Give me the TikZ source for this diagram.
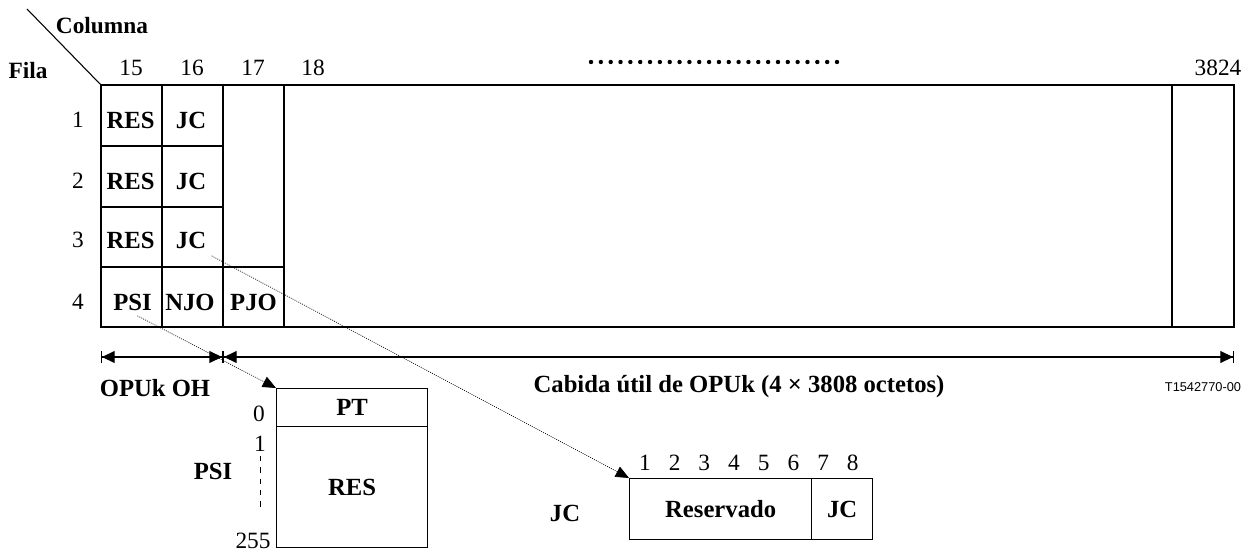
\documentclass[tikz,border=0pt]{standalone}
\usepackage{fontspec}
\setmainfont{Liberation Serif}
\newfontfamily\refsans{Liberation Sans}
\usetikzlibrary{arrows.meta}

\begin{document}
\begin{tikzpicture}[
    x=0.75pt, y=-0.75pt,
    frame/.style={line width=1pt},
    field/.style={
        font=\fontsize{18.5}{21}\selectfont\bfseries,
        inner sep=1pt
    },
    box field/.style={
        draw,
        line width=1pt,
        font=\fontsize{18.5}{21}\selectfont\bfseries,
        inner sep=0pt,
        anchor=north west
    },
    index/.style={
        font=\fontsize{17.5}{20}\selectfont,
        inner sep=1pt
    },
    heading/.style={
        font=\fontsize{17.5}{20}\selectfont\bfseries,
        inner sep=1pt
    },
    span arrow/.style={
        {Bar[width=9pt]Triangle[length=9.5pt, width=9pt, sep=0pt]}-{Triangle[length=9.5pt, width=9pt, sep=0pt]Bar[width=9pt]},
        line width=0.8pt
    },
    pointer/.style={
        -{Triangle[length=10pt, width=8.5pt]},
        line width=0.5pt,
        dash pattern=on 0.7pt off 0.9pt
    }
]
    \useasboundingbox (0,0) rectangle (1246,553);

    % --- A. HEADINGS ---
    \draw[line width=0.8pt] (27,9) -- (101,85);
    \node[heading] (columna) at (102,26) {Columna};
    \node[heading] (fila) at (28,71) {Fila};

    \foreach \c/\x in {15/131, 16/192, 17/253, 18/313, 3824/1218}
        \node[index] (col\c) at (\x,68) {\c};

    \foreach \d in {0,...,25}
        \fill (591+\d*9.84,62) circle (2.2);

    \foreach \r/\y in {1/120, 2/181, 3/240, 4/302}
        \node[index] (row\r) at (78,\y) {\r};

    % --- B. OPUk FRAME ---
    \draw[frame] (101,85) rectangle (1234,327);
    \draw[frame] (162,85) -- (162,327);
    \draw[frame] (223,85) -- (223,327);
    \draw[frame] (284,85) -- (284,327);
    \draw[frame] (1172,85) -- (1172,327);
    \draw[frame] (101,146) -- (223,146);
    \draw[frame] (101,207) -- (223,207);
    \draw[frame] (101,267) -- (284,267);

    \foreach \r/\y in {1/120, 2/181, 3/240} {
        \node[field] (res\r) at (130.5,\y) {RES};
        \node[field] (jc\r) at (191,\y) {JC};
    }
    \node[field] (psi) at (132.5,302) {PSI};
    \node[field] (njo) at (190,302) {NJO};
    \node[field] (pjo) at (253.5,302) {PJO};

    % --- C. SPANS ---
    \draw[span arrow] (101,357) -- (223,357);
    \draw[span arrow] (223,357) -- (1234,357);
    \node[field] (ohlbl) at (155,388) {OPUk OH};
    \node[field] (payloadlbl) at (739,387) {Cabida útil de OPUk (4 × 3808 octetos)};
    \node[font=\refsans\fontsize{9.6}{11}\selectfont, inner sep=1pt] (figref) at (1203,387) {T1542770-00};

    % --- D. PSI DETAIL ---
    \node[box field, minimum width=113.25pt, minimum height=28.5pt] (ptfield) at (276,388) {PT};
    \node[box field, minimum width=113.25pt, minimum height=90.75pt] (psires) at (276,426) {RES};
    \node[index] (idx0) at (259,414) {0};
    \node[index] (idx1) at (260,444) {1};
    \node[index] (idx255) at (253,541) {255};
    \draw[line width=0.6pt, dash pattern=on 4pt off 4.5pt] (260,456) -- (260,509);
    \node[field] (psilbl) at (213,471) {PSI};

    % --- E. JC DETAIL ---
    \node[box field, minimum width=136.5pt, minimum height=45.75pt] (reserved) at (629,478) {Reservado};
    \node[box field, minimum width=45.75pt, minimum height=45.75pt] (jcbits) at (811,478) {JC};
    \foreach \b in {1,...,8}
        \node[index] (bit\b) at (629+\b*29.7-13.8,463) {\b};
    \node[field] (jclbl) at (565,513) {JC};

    % --- POINTERS ---
    \draw[pointer] ([shift={(5,4)}]psi.south) -- (ptfield.north west);
    \draw[pointer] ([shift={(4,6)}]jc3.south east) -- (reserved.north west);

\end{tikzpicture}
\end{document}
